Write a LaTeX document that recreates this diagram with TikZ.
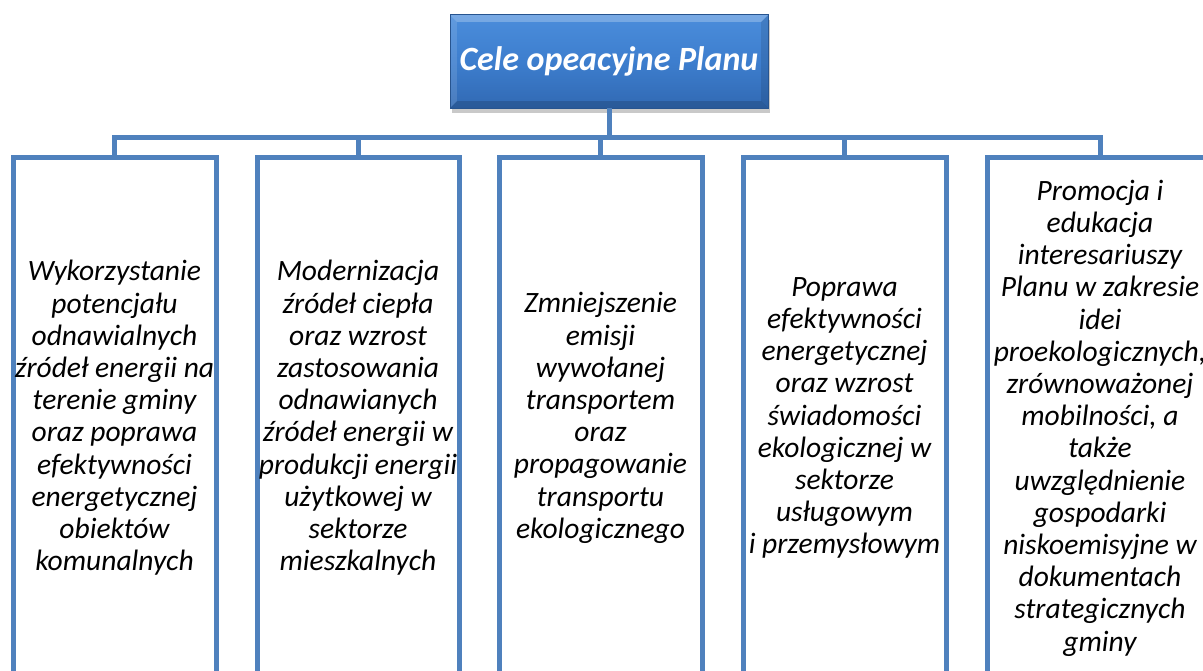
\documentclass[tikz,border=0pt]{standalone}
\usepackage{fontspec}
\setmainfont{Carlito}
\usetikzlibrary{shadows}
\definecolor{linblue}{HTML}{4F81BD}
\definecolor{topmid}{HTML}{3D7ECE}
\definecolor{toptop}{HTML}{4B8DDB}
\definecolor{topbot}{HTML}{3169B3}
\tikzset{
  goalbox/.style={draw=linblue, line width=5pt, fill=white, minimum height=520pt, inner sep=0pt},
  goaltext/.style={align=center, inner sep=0pt, font=\fontsize{29.5}{32.2}\selectfont\itshape},
  conn/.style={draw=linblue, line width=5pt, line join=miter},
  headbox/.style={minimum width=318pt, minimum height=93pt, inner sep=0pt,
    top color=toptop, bottom color=topbot, middle color=topmid,
    drop shadow={shadow xshift=2pt, shadow yshift=-5pt, opacity=0.35, fill=black!60}}
}
\begin{document}
\begin{tikzpicture}[x=1pt,y=-1pt]
\useasboundingbox (0,0) rectangle (1203,671);
\clip (0,0) rectangle (1203,671);
\fill[white] (0,0) rectangle (1203,671);
% head
\node[headbox] (head) at (609,61.5) {};
\fill[white,opacity=0.25] (head.north west) -- (head.north east) -- ([shift={(-7,7)}]head.north east) -- ([shift={(7,7)}]head.north west) -- cycle;
\fill[white,opacity=0.12] (head.north west) -- ([shift={(7,7)}]head.north west) -- ([shift={(7,-7)}]head.south west) -- (head.south west) -- cycle;
\fill[black,opacity=0.15] (head.south west) -- (head.south east) -- ([shift={(-7,-7)}]head.south east) -- ([shift={(7,-7)}]head.south west) -- cycle;
\fill[black,opacity=0.10] (head.north east) -- ([shift={(-7,7)}]head.north east) -- ([shift={(-7,-7)}]head.south east) -- (head.south east) -- cycle;
\draw[topbot!80!black, line width=0.6pt] (head.north west) rectangle (head.south east);
\node[font=\fontsize{34}{37}\selectfont\bfseries\itshape, text=white] (headtext) at (head.center) {Cele opeacyjne Planu};
% boxes
\node[goalbox, minimum width=203pt] (b1) at (114.5,418) {};
\node[goalbox, minimum width=202pt] (b2) at (358,418) {};
\node[goalbox, minimum width=203pt] (b3) at (600.5,418) {};
\node[goalbox, minimum width=203pt] (b4) at (844.5,418) {};
\node[goalbox, minimum width=226pt] (b5) at (1100,418) {};
\coordinate (bus) at (609,138);
% connectors
\draw[conn] (head.south) -- (head.south |- bus);
\draw[conn] (b1.north) -- (b1.north |- bus) -- (b5.north |- bus) -- (b5.north);
\draw[conn] (b2.north |- bus) -- (b2.north);
\draw[conn] (b3.north |- bus) -- (b3.north);
\draw[conn] (b4.north |- bus) -- (b4.north);
% texts
\node[goaltext] (t1) at (b1.center) {Wykorzystanie\\potencjału\\odnawialnych\\źródeł energii na\\terenie gminy\\oraz poprawa\\efektywności\\energetycznej\\obiektów\\komunalnych};
\node[goaltext] (t2) at (b2.center) {Modernizacja\\źródeł ciepła\\oraz wzrost\\zastosowania\\odnawianych\\źródeł energii w\\produkcji energii\\użytkowej w\\sektorze\\mieszkalnych};
\node[goaltext] (t3) at (b3.center) {Zmniejszenie\\emisji\\wywołanej\\transportem\\oraz\\propagowanie\\transportu\\ekologicznego};
\node[goaltext] (t4) at (b4.center) {Poprawa\\efektywności\\energetycznej\\oraz wzrost\\świadomości\\ekologicznej w\\sektorze\\usługowym\\i przemysłowym};
\node[goaltext] (t5) at (b5.center) {Promocja i\\edukacja\\interesariuszy\\Planu w zakresie\\idei\\proekologicznych,\\zrównoważonej\\mobilności, a\\także\\uwzględnienie\\gospodarki\\niskoemisyjne w\\dokumentach\\strategicznych\\gminy};
\end{tikzpicture}
\end{document}
